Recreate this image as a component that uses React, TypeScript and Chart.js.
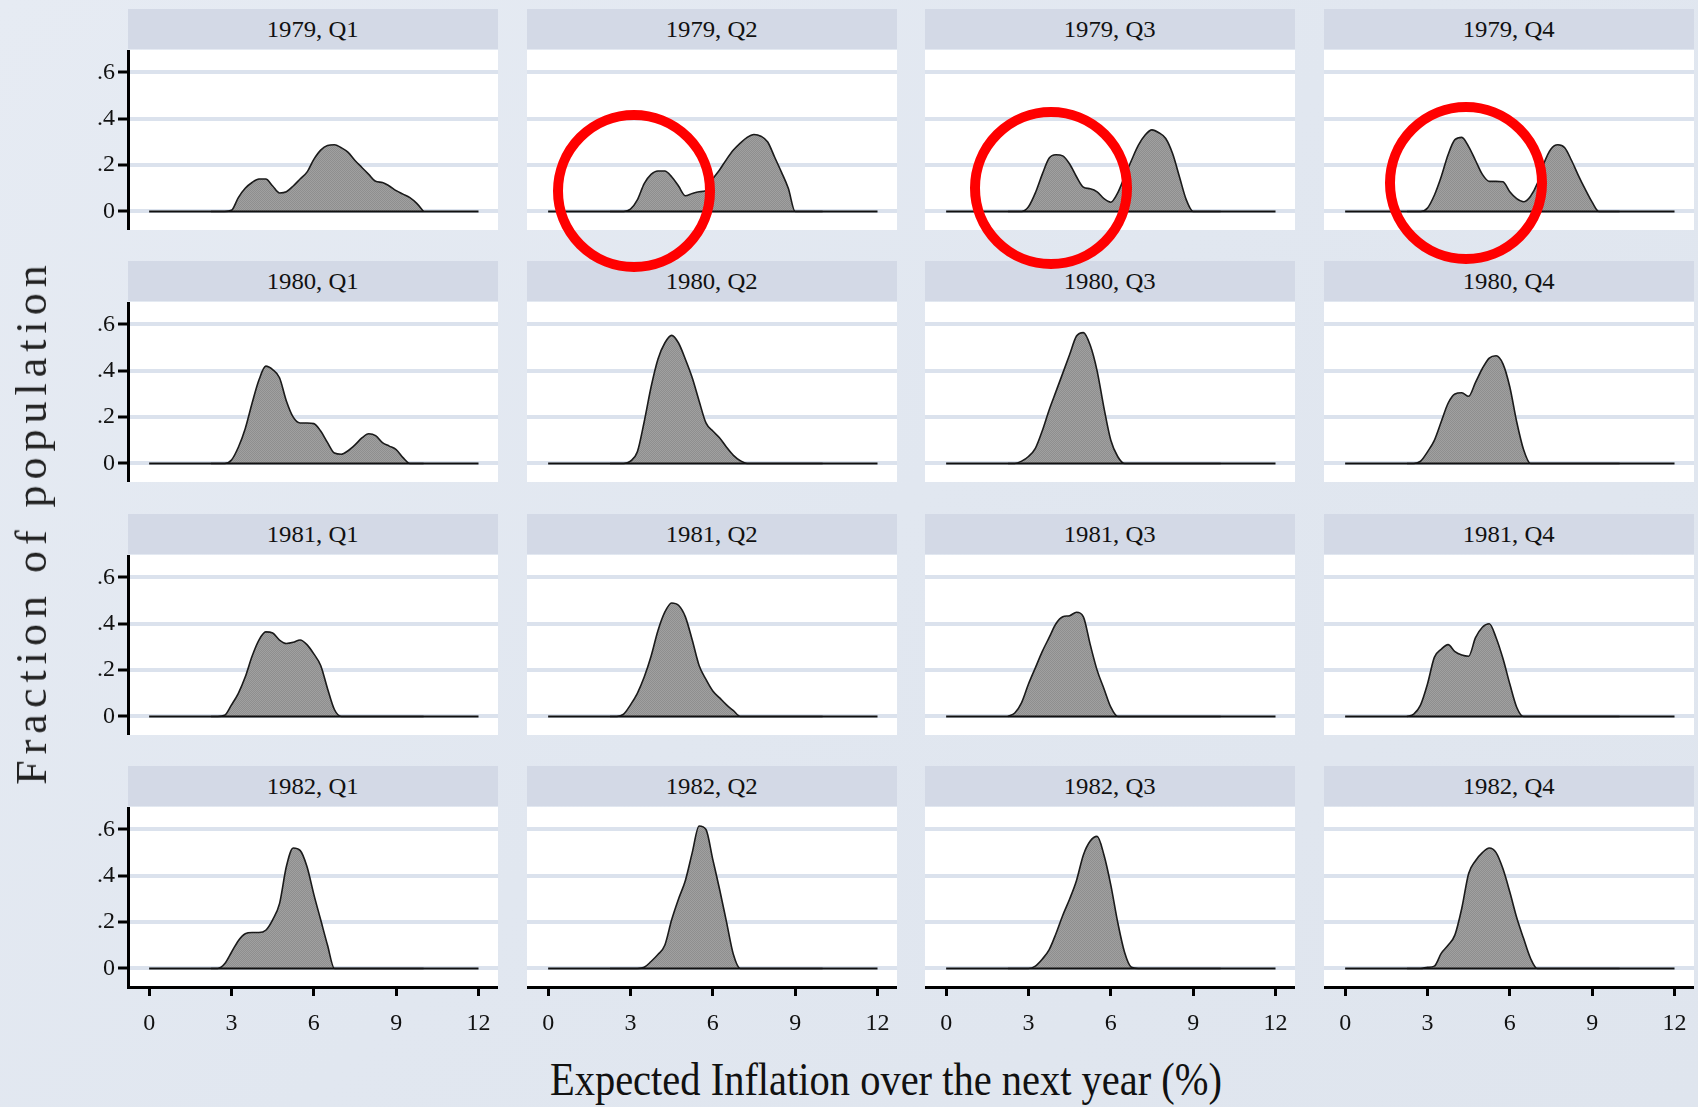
import React, { useEffect, useRef } from "react";
import { Chart, registerables } from "chart.js";

Chart.register(...registerables);

// ---------- DATA ----------
const PANEL_TITLES = [
  "1979, Q1", "1979, Q2", "1979, Q3", "1979, Q4",
  "1980, Q1", "1980, Q2", "1980, Q3", "1980, Q4",
  "1981, Q1", "1981, Q2", "1981, Q3", "1981, Q4",
  "1982, Q1", "1982, Q2", "1982, Q3", "1982, Q4",
];

// expected inflation grid (%)
const X_GRID = [2.25, 2.5, 2.75, 3, 3.25, 3.5, 3.75, 4, 4.25, 4.5, 4.75, 5, 5.25, 5.5, 5.75, 6,
  6.25, 6.5, 6.75, 7, 7.25, 7.5, 7.75, 8, 8.25, 8.5, 8.75, 9, 9.25, 9.5, 9.75, 10];
const BASELINE_X = [0, 12];

const DENS_1979_Q1 = [0, 0, 0, 0.005, 0.06, 0.10, 0.125, 0.14, 0.14, 0.11, 0.08, 0.085, 0.11, 0.14, 0.17, 0.225,
  0.265, 0.285, 0.288, 0.275, 0.255, 0.22, 0.19, 0.16, 0.13, 0.125, 0.11, 0.09, 0.075, 0.06, 0.035, 0];
const DENS_1979_Q2 = [0, 0, 0, 0.01, 0.05, 0.12, 0.16, 0.175, 0.175, 0.15, 0.11, 0.068, 0.078, 0.085, 0.09, 0.14,
  0.18, 0.225, 0.265, 0.295, 0.32, 0.332, 0.325, 0.30, 0.235, 0.17, 0.1, 0, 0, 0, 0, 0];
const DENS_1979_Q3 = [0, 0, 0, 0.02, 0.08, 0.16, 0.23, 0.245, 0.24, 0.205, 0.15, 0.105, 0.098, 0.085, 0.055, 0.04,
  0.08, 0.15, 0.22, 0.285, 0.33, 0.352, 0.34, 0.315, 0.25, 0.15, 0.05, 0, 0, 0, 0, 0];
const DENS_1979_Q4 = [0, 0, 0, 0.015, 0.07, 0.15, 0.245, 0.31, 0.32, 0.28, 0.22, 0.16, 0.13, 0.13, 0.128, 0.085,
  0.055, 0.042, 0.065, 0.12, 0.21, 0.27, 0.288, 0.275, 0.22, 0.155, 0.095, 0.04, 0, 0, 0, 0];
const DENS_1980_Q1 = [0, 0, 0, 0.015, 0.07, 0.15, 0.26, 0.36, 0.42, 0.405, 0.37, 0.27, 0.2, 0.175, 0.175, 0.172,
  0.14, 0.09, 0.045, 0.04, 0.055, 0.08, 0.11, 0.128, 0.12, 0.09, 0.075, 0.06, 0.025, 0, 0, 0];
const DENS_1980_Q2 = [0, 0, 0, 0.01, 0.05, 0.18, 0.33, 0.45, 0.52, 0.553, 0.52, 0.45, 0.37, 0.27, 0.175, 0.14,
  0.11, 0.07, 0.035, 0.012, 0, 0, 0, 0, 0, 0, 0, 0, 0, 0, 0, 0];
const DENS_1980_Q3 = [0, 0, 0.01, 0.03, 0.065, 0.14, 0.23, 0.31, 0.39, 0.47, 0.55, 0.565, 0.51, 0.4, 0.24, 0.1,
  0.03, 0, 0, 0, 0, 0, 0, 0, 0, 0, 0, 0, 0, 0, 0, 0];
const DENS_1980_Q4 = [0, 0, 0.01, 0.05, 0.1, 0.18, 0.26, 0.3, 0.305, 0.29, 0.35, 0.41, 0.455, 0.465, 0.43, 0.33,
  0.18, 0.06, 0, 0, 0, 0, 0, 0, 0, 0, 0, 0, 0, 0, 0, 0];
const DENS_1981_Q1 = [0, 0, 0.005, 0.05, 0.1, 0.17, 0.26, 0.33, 0.365, 0.36, 0.33, 0.315, 0.32, 0.33, 0.31, 0.27,
  0.22, 0.12, 0.03, 0, 0, 0, 0, 0, 0, 0, 0, 0, 0, 0, 0, 0];
const DENS_1981_Q2 = [0, 0, 0.01, 0.05, 0.1, 0.17, 0.26, 0.37, 0.45, 0.49, 0.48, 0.43, 0.33, 0.22, 0.16, 0.11,
  0.08, 0.05, 0.025, 0, 0, 0, 0, 0, 0, 0, 0, 0, 0, 0, 0, 0];
const DENS_1981_Q3 = [0, 0.015, 0.06, 0.14, 0.21, 0.28, 0.34, 0.4, 0.43, 0.435, 0.45, 0.43, 0.31, 0.2, 0.12, 0.04,
  0, 0, 0, 0, 0, 0, 0, 0, 0, 0, 0, 0, 0, 0, 0, 0];
const DENS_1981_Q4 = [0, 0.01, 0.05, 0.14, 0.255, 0.29, 0.31, 0.28, 0.265, 0.26, 0.34, 0.385, 0.4, 0.34, 0.25, 0.14,
  0.04, 0, 0, 0, 0, 0, 0, 0, 0, 0, 0, 0, 0, 0, 0, 0];
const DENS_1982_Q1 = [0, 0, 0.02, 0.07, 0.12, 0.15, 0.155, 0.155, 0.165, 0.21, 0.28, 0.44, 0.52, 0.51, 0.44, 0.32,
  0.21, 0.1, 0, 0, 0, 0, 0, 0, 0, 0, 0, 0, 0, 0, 0, 0];
const DENS_1982_Q2 = [0, 0, 0, 0, 0, 0.005, 0.03, 0.06, 0.1, 0.21, 0.3, 0.38, 0.5, 0.615, 0.6, 0.47,
  0.34, 0.2, 0.06, 0, 0, 0, 0, 0, 0, 0, 0, 0, 0, 0, 0, 0];
const DENS_1982_Q3 = [0, 0, 0, 0, 0.01, 0.04, 0.08, 0.15, 0.23, 0.3, 0.38, 0.49, 0.55, 0.57, 0.49, 0.36,
  0.2, 0.07, 0.005, 0, 0, 0, 0, 0, 0, 0, 0, 0, 0, 0, 0, 0];
const DENS_1982_Q4 = [0, 0, 0, 0.005, 0.01, 0.065, 0.1, 0.145, 0.26, 0.41, 0.465, 0.5, 0.52, 0.5, 0.43, 0.33,
  0.22, 0.13, 0.045, 0, 0, 0, 0, 0, 0, 0, 0, 0, 0, 0, 0, 0];

const PANEL_VALUES = [
  DENS_1979_Q1, DENS_1979_Q2, DENS_1979_Q3, DENS_1979_Q4,
  DENS_1980_Q1, DENS_1980_Q2, DENS_1980_Q3, DENS_1980_Q4,
  DENS_1981_Q1, DENS_1981_Q2, DENS_1981_Q3, DENS_1981_Q4,
  DENS_1982_Q1, DENS_1982_Q2, DENS_1982_Q3, DENS_1982_Q4,
];

const X_TICKS = [0, 3, 6, 9, 12];
const X_TICK_LABELS = ["0", "3", "6", "9", "12"];
const Y_TICKS = [0, 0.2, 0.4, 0.6];
const Y_TICK_LABELS = ["0", ".2", ".4", ".6"];
const HIGHLIGHTED_PANELS = [1, 2, 3];

const X_TITLE = "Expected Inflation over the next year (%)";
const Y_TITLE = "Fraction of population";

// ---------- STYLE / LAYOUT ----------
const X_MIN = -0.77;
const X_MAX = 12.71;
const Y_MIN = -0.08;
const Y_MAX = 0.697;
const SERIF = '"Liberation Serif", "Times New Roman", serif';
const PAGE_BG = "#e1e7f0";
const HEADER_BG = "#d3d9e6";
const GRID_COLOR = "#dbe2ed";
const PLOT_W = 370;
const PLOT_H = 180;
const HEADER_H = 40;
const colLeft = (j: number) => 128 + 398.5 * j;
const rowTop = (i: number) => 9 + 252.3 * i;
const Y_AXIS_W = 128;
const X_AXIS_H = 60;

// red circle annotations: [centerX, centerY]
const CIRCLE_CENTERS: Record<number, [number, number]> = {
  1: [634, 191],
  2: [1051, 188],
  3: [1466, 183],
};
const CIRCLE_R = 81;

function makePattern(): CanvasPattern | string {
  const pc = document.createElement("canvas");
  pc.width = 2;
  pc.height = 2;
  const c = pc.getContext("2d");
  if (!c) return "#999999";
  c.fillStyle = "#a0a0a0";
  c.fillRect(0, 0, 2, 2);
  c.fillStyle = "#8e8e8e";
  c.fillRect(0, 0, 1, 1);
  c.fillRect(1, 1, 1, 1);
  const p = c.createPattern(pc, "repeat");
  return p || "#999999";
}

const bgPlugin = {
  id: "plotBg",
  beforeDraw(chart: any) {
    const { ctx, chartArea } = chart;
    ctx.save();
    ctx.fillStyle = "#ffffff";
    ctx.fillRect(chartArea.left, chartArea.top, chartArea.right - chartArea.left, chartArea.bottom - chartArea.top);
    ctx.restore();
  },
};

function Panel({ idx }: { idx: number }) {
  const ref = useRef<HTMLCanvasElement>(null);
  const row = Math.floor(idx / 4);
  const col = idx % 4;
  const isLeft = col === 0;
  const isBottom = row === 3;
  const left = isLeft ? 0 : colLeft(col);
  const width = isLeft ? colLeft(0) + PLOT_W : PLOT_W;
  const top = rowTop(row) + HEADER_H + 1;
  const height = PLOT_H + (isBottom ? X_AXIS_H : 0);

  useEffect(() => {
    if (!ref.current) return;
    const values = PANEL_VALUES[idx];
    const tickFont = { family: SERIF, size: 24 };
    const chart = new Chart(ref.current, {
      type: "line",
      data: {
        datasets: [
          {
            data: BASELINE_X.map((x) => ({ x, y: 0 })),
            borderColor: "#111111",
            borderWidth: 2,
            pointRadius: 0,
            fill: false,
            order: 0,
          },
          {
            data: X_GRID.map((x, i) => ({ x, y: values[i] })),
            borderColor: "#1a1a1a",
            borderWidth: 1.6,
            backgroundColor: makePattern() as any,
            fill: "origin",
            pointRadius: 0,
            cubicInterpolationMode: "monotone",
            order: 1,
          },
        ],
      },
      options: {
        animation: false,
        responsive: false,
        maintainAspectRatio: false,
        events: [],
        layout: { padding: 0 },
        plugins: {
          legend: { display: false },
          tooltip: { enabled: false },
          title: { display: false },
        },
        scales: {
          x: {
            type: "linear",
            min: X_MIN,
            max: X_MAX,
            display: isBottom,
            afterBuildTicks: (s: any) => {
              s.ticks = X_TICKS.map((v) => ({ value: v }));
            },
            afterFit: (s: any) => {
              s.height = isBottom ? X_AXIS_H : 0;
              s.paddingLeft = 0;
              s.paddingRight = 0;
              s.paddingTop = 0;
              s.paddingBottom = 0;
            },
            grid: {
              drawOnChartArea: false,
              drawTicks: true,
              tickLength: 9,
              tickWidth: 3,
              tickColor: "#000000",
            },
            border: { display: true, color: "#000000", width: 3 },
            ticks: {
              autoSkip: false,
              maxRotation: 0,
              padding: 13,
              color: "#111111",
              font: tickFont,
              callback: (_v: any, i: number) => X_TICK_LABELS[i],
            },
          },
          y: {
            type: "linear",
            min: Y_MIN,
            max: Y_MAX,
            afterBuildTicks: (s: any) => {
              s.ticks = Y_TICKS.map((v) => ({ value: v }));
            },
            afterFit: (s: any) => {
              s.width = isLeft ? Y_AXIS_W : 0;
              s.paddingTop = 0;
              s.paddingBottom = 0;
              s.paddingLeft = 0;
              s.paddingRight = 0;
            },
            grid: {
              color: GRID_COLOR,
              lineWidth: 4,
              drawTicks: isLeft,
              tickLength: 10,
              tickWidth: 3,
              tickColor: "#000000",
            },
            border: { display: isLeft, color: "#000000", width: 3 },
            ticks: {
              display: isLeft,
              padding: 3,
              color: "#111111",
              font: tickFont,
              callback: (_v: any, i: number) => Y_TICK_LABELS[i],
            },
          },
        },
      } as any,
      plugins: [bgPlugin],
    });
    return () => chart.destroy();
  }, [idx]);

  return (
    <canvas
      ref={ref}
      width={Math.round(width)}
      height={Math.round(height)}
      style={{ position: "absolute", left: Math.round(left), top: Math.round(top), width: Math.round(width), height: Math.round(height) }}
    />
  );
}

export default function App() {
  return (
    <div
      style={{
        position: "absolute",
        left: 0,
        top: 0,
        width: 1698,
        height: 1107,
        overflow: "hidden",
        background: `linear-gradient(135deg, #e6ebf3 0%, ${PAGE_BG} 50%, #dfe5ee 100%)`,
        fontFamily: SERIF,
      }}
    >
      {PANEL_TITLES.map((t, idx) => {
        const row = Math.floor(idx / 4);
        const col = idx % 4;
        return (
          <div
            key={"h" + idx}
            style={{
              position: "absolute",
              left: Math.round(colLeft(col)),
              top: Math.round(rowTop(row)),
              width: PLOT_W,
              height: HEADER_H,
              background: HEADER_BG,
              textAlign: "center",
              lineHeight: HEADER_H + "px",
              fontSize: 24,
              color: "#111",
            }}
          >
            <span style={{ display: "inline-block", transform: "scaleX(1.03)" }}>{t}</span>
          </div>
        );
      })}
      {PANEL_TITLES.map((_t, idx) => (
        <Panel key={"p" + idx} idx={idx} />
      ))}
      <div
        style={{
          position: "absolute",
          left: 32,
          top: 522,
          transform: "translate(-50%, -50%) rotate(-90deg)",
          whiteSpace: "nowrap",
          fontSize: 44,
          letterSpacing: "6px",
          color: "#222",
          lineHeight: 1,
        }}
      >
        {Y_TITLE}
      </div>
      <div
        style={{
          position: "absolute",
          left: 886,
          top: 1057,
          transform: "translateX(-50%) scaleX(0.88)",
          whiteSpace: "nowrap",
          fontSize: 46,
          color: "#111",
          lineHeight: 1,
        }}
      >
        {X_TITLE}
      </div>
      {HIGHLIGHTED_PANELS.map((p) => {
        const [cx, cy] = CIRCLE_CENTERS[p];
        return (
          <div
            key={"c" + p}
            style={{
              position: "absolute",
              left: cx - CIRCLE_R,
              top: cy - CIRCLE_R,
              width: CIRCLE_R * 2,
              height: CIRCLE_R * 2,
              boxSizing: "border-box",
              border: "10px solid #ff0000",
              borderRadius: "50%",
            }}
          />
        );
      })}
    </div>
  );
}
